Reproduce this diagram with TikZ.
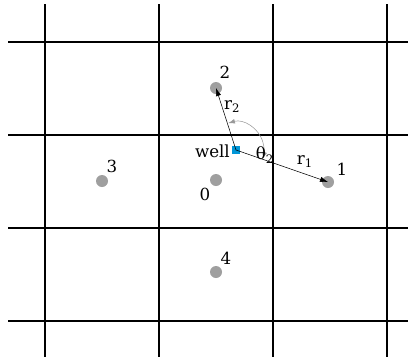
\documentclass[tikz,border=0pt]{standalone}
\usepackage{fontspec}
\setmainfont{DejaVu Serif}
\usetikzlibrary{calc,arrows.meta}
\definecolor{wellblue}{RGB}{0,150,215}
\tikzset{
  obs/.style={circle, fill=gray!75, inner sep=0pt, minimum size=9pt},
  wellbox/.style={rectangle, fill=wellblue, inner sep=0pt, minimum size=6.5pt},
  grid line/.style={line width=0.9pt},
  lbl/.style={font=\fontsize{12.5}{15}\selectfont},
}
\begin{document}
\begin{tikzpicture}[x=0.75pt, y=-0.75pt]
      \useasboundingbox (0, 0) rectangle (416, 361);
      % grid
      \foreach \gx in {45, 159, 273, 387}
        \draw [grid line] (\gx, 4) -- (\gx, 357);
      \foreach \gy in {42, 135, 228, 321}
        \draw [grid line] (8, \gy) -- (408, \gy);

      % wells
      \node [obs] (p0) at (216, 180) {};
      \node [obs] (p1) at (328, 182) {};
      \node [obs] (p2) at (216, 88) {};
      \node [obs] (p3) at (102, 181) {};
      \node [obs] (p4) at (216, 272) {};
      \node [wellbox] (w) at (236, 150) {};

      \node [lbl] (l0) at (205, 194) {0};
      \node [lbl] (l1) at (342, 169) {1};
      \node [lbl] (l2) at (225, 72) {2};
      \node [lbl] (l3) at (112, 166) {3};
      \node [lbl] (l4) at (226, 258) {4};
      \node [lbl, anchor=east, inner sep=1pt] (lw) at ($(w.west)+(0,1)$) {well};

      \draw [-{Latex[length=6pt,width=4pt]}] (w.center) -- (p1.center) node [lbl, pos=0.75, above, yshift=1pt] {r\textsubscript{1}};
      \draw [-{Latex[length=6pt,width=4pt]}] (w.center) -- (p2.center) node [lbl, pos=0.7, right, xshift=-2pt] {r\textsubscript{2}};
      \draw [{Latex[length=5pt,width=3.5pt]}-{Latex[length=5pt,width=3.5pt]}, gray!80] ($(w.center)+(-106:28)$) arc (-106:18:28);
      \node [lbl] (th) at (265, 155) {θ\textsubscript{2}};
    \end{tikzpicture}
\end{document}
